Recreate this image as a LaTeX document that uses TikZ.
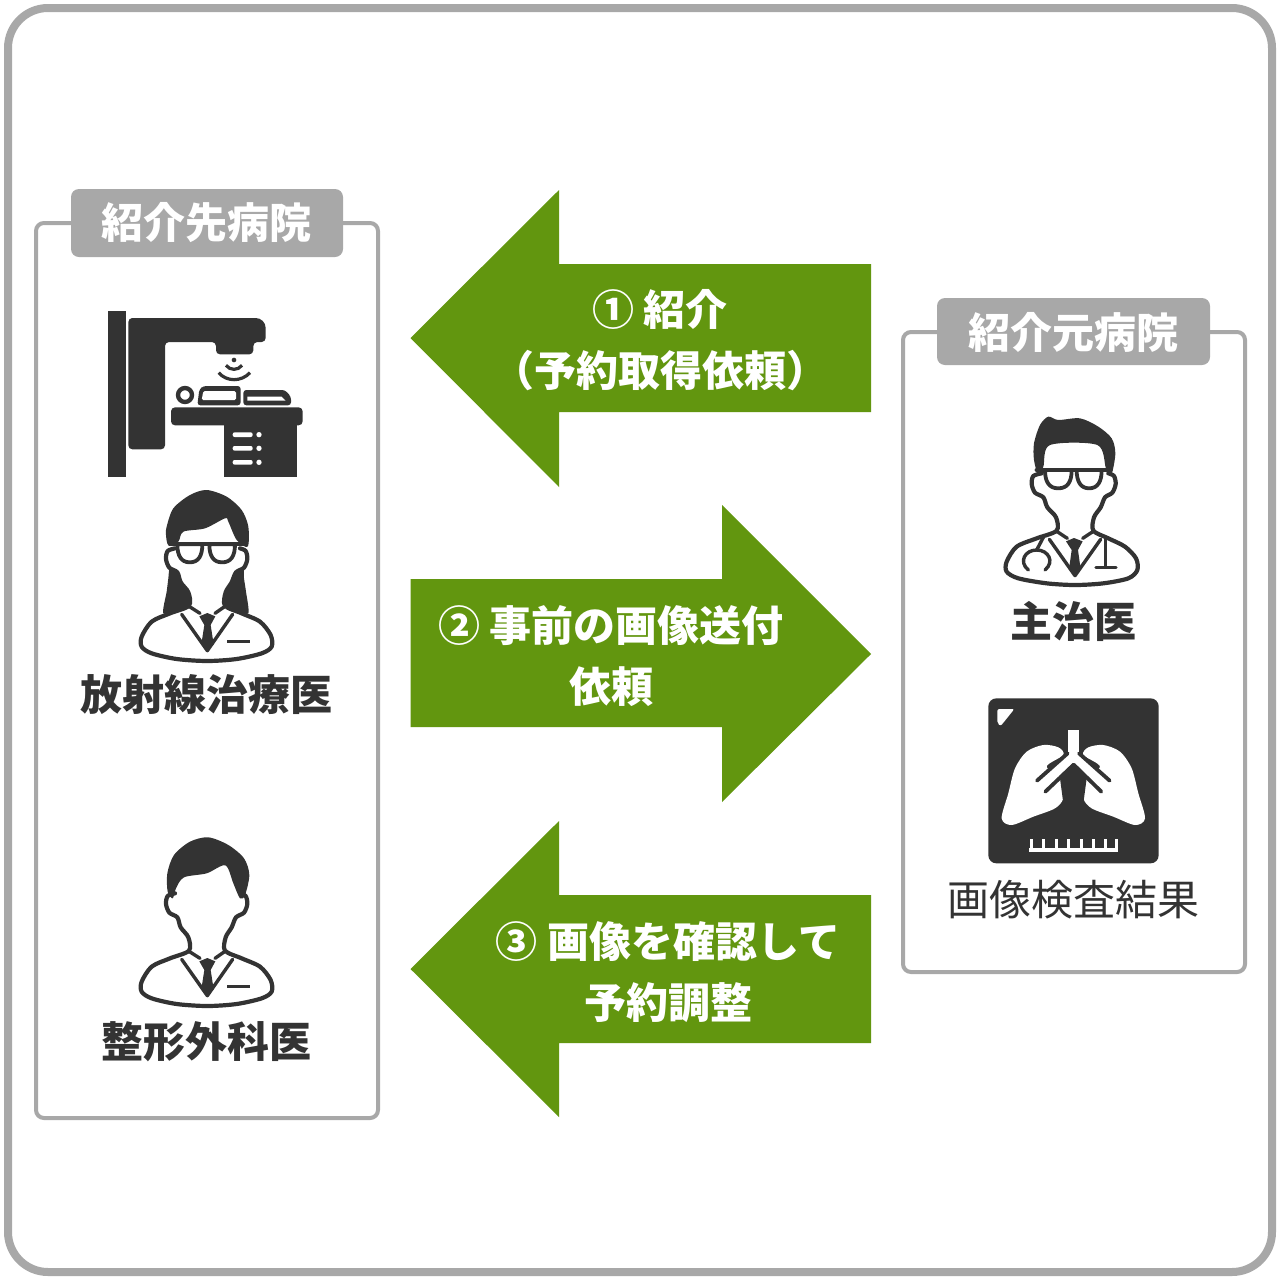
\documentclass[tikz,border=0pt]{standalone}
\usepackage{fontspec}
\setmainfont{Noto Sans CJK JP}
\newfontfamily\numfont{Noto Sans CJK JP Medium}
\definecolor{ink}{HTML}{333333}
\definecolor{frame}{HTML}{A8A8A8}
\definecolor{leaf}{HTML}{62960F}
\tikzset{
  x=1pt,y=-1pt,
  boxline/.style={draw=frame,line width=4pt,rounded corners=8pt,fill=white},
  headbox/.style={fill=frame,rounded corners=8pt},
  headtext/.style={text=white,font=\fontsize{42}{42}\selectfont\bfseries,inner sep=0pt},
  arrowfill/.style={fill=leaf,draw=none},
  arrowtext/.style={text=white,font=\fontsize{42}{60.5}\selectfont\bfseries,align=center,inner sep=0pt},
  caption/.style={text=ink,font=\fontsize{42}{42}\selectfont\bfseries,inner sep=0pt},
  plain/.style={text=ink,font=\fontsize{42}{42}\selectfont,inner sep=0pt},
  dark/.style={fill=ink,draw=none},
  pen/.style={draw=ink,line width=4.2pt,line join=round,line cap=round},
  thinpen/.style={draw=ink,line width=3.4pt,line join=round,line cap=round},
  icon/.style={shift={#1},scale=1/3},
}
\newcommand{\numeral}[1]{{\numfont #1}}
% flat-topped spectacle lens: left edge, right edge, top, bottom
\newcommand{\lens}[4]{\draw[pen,line width=3.8pt,fill=white] (#1,#3)--(#2,#3) .. controls (#2,#3+35) and (#2-12,#4) .. ({(#1+#2)/2},#4) .. controls (#1+12,#4) and (#1,#3+35) .. cycle;}
\newcommand{\bustcommon}{%
  \draw[pen] plot[smooth] coordinates {(165,190)(143,198)(138,222)(148,248)(172,262)(182,292)(205,322)(207,362)(150,385)(95,410)(65,455)(65,485)(95,505)(170,522)(262,528)(350,522)(425,505)(455,485)(452,450)(420,410)(365,385)(315,362)(317,322)(335,292)(348,262)(372,248)(382,222)(377,198)(360,190)};
  \draw[thinpen] (185,388)--(262,497)--(338,388);
  \draw[thinpen] (207,364)--(240,385);
  \draw[thinpen] (315,364)--(285,385);
  \fill[ink] (238,394)--(262,384)--(286,394)--(272,420)--(281,478)--(262,498)--(244,478)--(253,420)--cycle;
  \draw[pen,line width=3.4pt,line cap=butt] (322,470)--(389,470);
}
\begin{document}
\begin{tikzpicture}
\useasboundingbox (0,0) rectangle (1280,1280);
\fill[white] (0,0) rectangle (1280,1280);
\draw[draw=frame,line width=8pt,rounded corners=40pt,fill=white] (8,8) rectangle (1272,1272);

% side boxes
\draw[boxline] (36,223) rectangle (378,1118);
\fill[headbox] (71,189) rectangle (343,257);
\node[headtext] (headleft) at (206,223) {紹介先病院};
\draw[boxline] (903,332) rectangle (1245,972);
\fill[headbox] (937,298) rectangle (1210,365);
\node[headtext] (headright) at (1073,332) {紹介元病院};

% arrows
\fill[arrowfill] (410.5,338)--(559,190)--(559,264)--(871,264)--(871,412)--(559,412)--(559,487)--cycle;
\fill[arrowfill] (871,654)--(722,505)--(722,579)--(410.5,579)--(410.5,727)--(722,727)--(722,802)--cycle;
\fill[arrowfill] (410.5,969)--(559,821)--(559,895)--(871,895)--(871,1043)--(559,1043)--(559,1117)--cycle;
\node[arrowtext] (stepone) at (660,340) {\numeral{①} 紹介\\（予約取得依頼）};
\node[arrowtext] (steptwo) at (611,656) {\numeral{②} 事前の画像送付\\依頼};
\node[arrowtext] (stepthree) at (668,972) {\numeral{③} 画像を確認して\\予約調整};

% captions
\node[caption] (radiation) at (206,695) {放射線治療医};
\node[caption] (ortho) at (206,1042) {整形外科医};
\node[caption] (attending) at (1073,621) {主治医};
\node[plain] (imaging) at (1073,900) {画像検査結果};

% treatment machine
\begin{scope}[icon={(90,300)}]
  \fill[dark] (54,32) rectangle (108,530);
  \fill[dark,rounded corners=4pt] (115,54)--(115,448)--(225,448)--(225,126)--(378,126)--(378,163)--(490,163)--(490,126)--(527,126) [rounded corners=10pt] --(527,54) [rounded corners=4pt] --cycle;
  \fill[ink] (432,180) circle (7);
  \draw[pen,line width=3.2pt,line cap=butt] (408,196) .. controls (420,212) and (444,212) .. (456,196);
  \draw[pen,line width=3.2pt,line cap=butt] (386,218) .. controls (410,246) and (454,246) .. (480,218);
  \draw[pen,line width=4.4pt] (285,285) circle (21);
  \fill[dark,rounded corners=3pt] (322,316)--(328,268)--(340,258)--(452,258)--(452,316)--cycle;
  \fill[white,rounded corners=1.5pt] (335,300)--(340,273)--(438,273)--(438,300)--cycle;
  \fill[dark,rounded corners=3pt] (460,316)--(460,270)--(585,270)--(603,290)--(603,316)--cycle;
  \fill[white] (472,290)--(575,290)--(587,302)--(472,302)--cycle;
  \fill[dark,rounded corners=4pt] (243,322) rectangle (638,376);
  \fill[dark] (403,370) rectangle (622,530);
  \foreach \yy in {404,445,487}{
    \fill[white,rounded corners=2pt] (428,\yy-7) rectangle (488,\yy+7);
    \fill[white] (507,\yy) circle (8);
  }
\end{scope}

% woman
\begin{scope}[icon={(120,485)}]
  \bustcommon
  \fill[dark] plot[smooth cycle] coordinates {(140,125)(160,70)(210,30)(260,15)(320,35)(365,75)(385,125)(383,185)(350,165)(325,110)(315,100)(255,130)(190,140)(175,170)(145,180)(138,150)};
  \fill[dark] plot[smooth cycle] coordinates {(150,248)(172,258)(190,295)(210,330)(205,358)(170,375)(130,385)(140,320)(145,280)};
  \fill[dark] plot[smooth cycle] coordinates {(370,248)(350,258)(332,295)(312,330)(317,358)(350,375)(385,385)(378,320)(372,280)};
  \draw[pen] (150,178)--(370,178);
  \lens{172}{247}{178}{232}
  \lens{268}{345}{178}{232}
\end{scope}

% man
\begin{scope}[icon={(120,830)}]
  \bustcommon
  \fill[dark] plot[smooth cycle] coordinates {(142,130)(162,75)(210,35)(265,22)(325,45)(372,85)(388,135)(375,195)(360,205)(340,160)(316,106)(260,130)(192,142)(168,175)(158,205)(143,185)};
\end{scope}

% doctor
\begin{scope}[icon={(990,410)}]
  \draw[pen] plot[smooth] coordinates {(155,190)(130,198)(125,222)(135,248)(160,262)(172,292)(198,322)(200,362)(140,385)(80,410)(50,455)(50,485)(85,505)(170,520)(255,525)(340,520)(415,505)(442,480)(438,445)(405,410)(355,385)(310,362)(312,322)(332,292)(345,262)(367,248)(377,222)(372,198)(355,190)};
  \draw[thinpen] (178,388)--(255,497)--(332,388);
  \draw[thinpen] (200,364)--(232,385);
  \draw[thinpen] (310,364)--(278,385);
  \fill[ink] (228,394)--(252,384)--(278,394)--(264,420)--(272,478)--(254,498)--(237,478)--(245,420)--cycle;
  \draw[pen,line width=3.4pt] (115,480) .. controls (85,455) and (105,420) .. (140,420) .. controls (175,420) and (195,455) .. (165,480);
  \draw[pen,line width=3.4pt] (140,420)--(160,382);
  \draw[pen,line width=3.4pt,line cap=butt] (347,385)--(347,472);
  \draw[pen,line width=3.4pt] (318,472)--(378,472);
  \fill[dark] plot[smooth cycle] coordinates {(132,150)(132,100)(150,45)(175,20)(205,30)(270,25)(325,50)(365,85)(376,130)(365,190)(348,175)(322,105)(180,105)(160,170)(145,195)};
  \draw[pen] (140,180)--(362,180);
  \lens{165}{245}{180}{235}
  \lens{260}{335}{180}{235}
\end{scope}

% x-ray film
\begin{scope}[icon={(980,690)}]
  \fill[dark,rounded corners=8pt] (25,25) rectangle (536,520);
  \fill[white,rounded corners=2pt] (52,57)--(103,57)--(62,108)--(52,100)--cycle;
  \fill[white] plot[smooth cycle] coordinates {(250,195)(235,172)(190,165)(140,185)(105,235)(85,310)(65,385)(95,405)(160,380)(225,355)(250,325)(250,270)(200,230)};
  \fill[white] plot[smooth cycle] coordinates {(310,195)(325,172)(370,165)(420,185)(455,235)(475,310)(495,385)(465,405)(400,380)(335,355)(310,325)(310,270)(360,230)};
  \fill[ink] (283,222)--(240,265)--(250,340)--(310,340)--(320,265)--cycle;
  \fill[white] (263,120) rectangle (297,195);
  \fill[white] (263,188)--(297,188)--(380,272)--(365,298)--(280,218)--(195,298)--(180,272)--cycle;
  \draw[pen,line width=3.8pt] (263,190)--(171,272);
  \draw[pen,line width=3.8pt] (297,190)--(389,272);
  \draw[pen,line width=3.8pt] (281,224)--(196,305);
  \draw[pen,line width=3.8pt] (281,224)--(364,305);
  \draw[white,line width=4pt,line cap=butt] (148,480)--(414,480);
  \foreach \xx in {153,190,228,265,303,340,377,410}{
    \draw[white,line width=3pt,line cap=butt] (\xx,480)--(\xx,446);
  }
\end{scope}
\end{tikzpicture}
\end{document}
